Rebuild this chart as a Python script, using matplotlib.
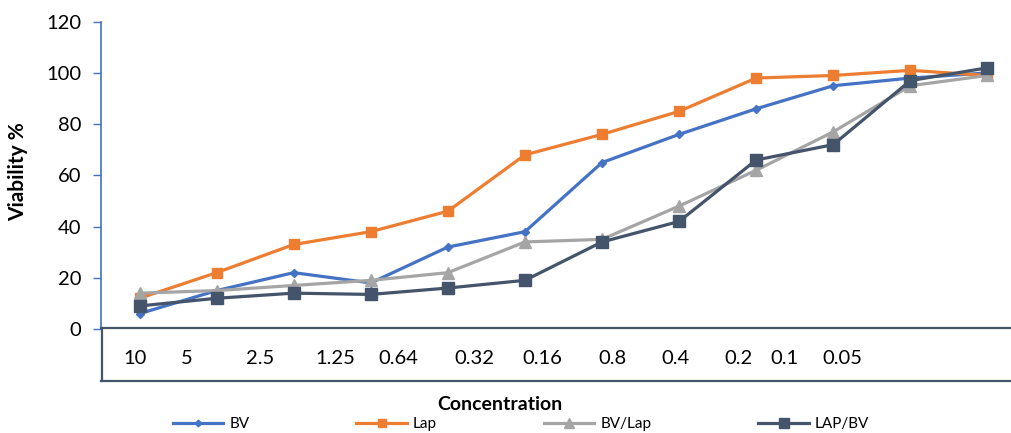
import matplotlib
matplotlib.use("Agg")
import matplotlib.pyplot as plt
from matplotlib.lines import Line2D

plt.rcParams['font.family'] = ['Lato', 'DejaVu Sans']

# dane
kategorie = list(range(12))
bv = [6, 15, 22, 18, 32, 38, 65, 76, 86, 95, 98, 100]
lap = [12, 22, 33, 38, 46, 68, 76, 85, 98, 99, 101, 99]
bv_lap = [14, 15, 17, 19, 22, 34, 35, 48, 62, 77, 95, 99]
lap_bv = [9, 12, 14, 13.5, 16, 19, 34, 42, 66, 72, 97, 102]
etykiety_x = ["10", "5", "2.5", "1.25", "0.64", "0.32", "0.16", "0.8",
              "0.4", "0.2", "0.1", "0.05"]
# polozenie etykiet (przesuniete jak w oryginale)
pozycje_etykiet = [-0.06, 0.61, 1.57, 2.54, 3.36, 4.34, 5.23, 6.13,
                   6.95, 7.77, 8.36, 9.12]

fig = plt.figure(figsize=(10.12, 4.33), dpi=100)
W, H = 1012, 433
ax = fig.add_axes([101 / W, 1 - 329 / H, (1026 - 101) / W, (329 - 21.7) / H])

ax.plot(kategorie, bv, color="#4472C4", lw=2.3, marker="D", ms=4, label="BV")
ax.plot(kategorie, lap, color="#ED7D31", lw=2.3, marker="s", ms=7.5, label="Lap")
ax.plot(kategorie, bv_lap, color="#A5A5A5", lw=2.3, marker="^", ms=8, label="BV/Lap")
ax.plot(kategorie, lap_bv, color="#44546A", lw=2.3, marker="s", ms=8, label="LAP/BV")

ax.set_xlim(-0.5, 11.5)
ax.set_ylim(0, 120)
ax.set_yticks(range(0, 121, 20))
ax.tick_params(axis="y", colors="#4472C4", length=6, width=1, labelsize=14.5,
               labelcolor="black", pad=8)
ax.set_xticks(pozycje_etykiet)
ax.set_xticklabels(etykiety_x)
ax.tick_params(axis="x", length=0, labelsize=14.5, pad=15)
for s in ["top", "right", "bottom"]:
    ax.spines[s].set_visible(False)
ax.spines["left"].set_color("#4472C4")
ax.spines["left"].set_linewidth(1.2)

# ramka pod osia
kolor_ramki = "#44546A"
for (x0, y0, x1, y1) in [(101, 328, 1012, 328), (101, 381, 1012, 381), (102, 328, 102, 381)]:
    fig.add_artist(Line2D([x0 / W, x1 / W], [1 - y0 / H, 1 - y1 / H],
                          color=kolor_ramki, lw=1.6))

fig.text(18 / W, 1 - 172 / H, "Viability %", rotation=90, ha="center", va="center",
         fontsize=15, fontweight="bold")
fig.text(500 / W, 1 - 404 / H, "Concentration", ha="center", va="center",
         fontsize=14, fontweight="bold")

fig.legend(loc="center", bbox_to_anchor=(521 / W, 1 - 424 / H), ncol=4, frameon=False,
           fontsize=11, handlelength=3.3, handletextpad=0.4, columnspacing=7.0,
           borderpad=0, borderaxespad=0, markerscale=0.85)

fig.savefig("out.png", dpi=100)
